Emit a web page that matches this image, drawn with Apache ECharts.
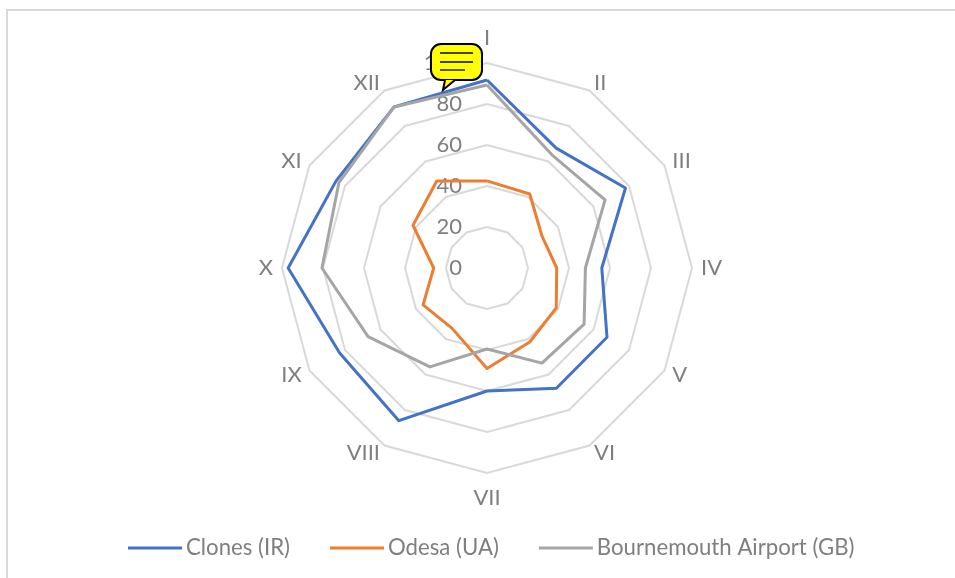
<!DOCTYPE html>
<html>
<head>
<meta charset="utf-8">
<style>html,body{margin:0;padding:0;background:#fff}#chart{width:955px;height:578px}</style>
<script src="https://cdn.jsdelivr.net/npm/echarts@6/dist/echarts.min.js"></script>
</head>
<body>
<div id="chart"></div>
<script>
// Monthly values per station, I to XII clockwise from the top
const months = ['I','II','III','IV','V','VI','VII','VIII','IX','X','XI','XII'];
const clones = [91.7,67.5,78,56,67.6,67.7,60,86,83,97,85,90.7];
const odesa = [42.5,41.7,31,34,39,41.7,49,34,36,26,41.7,49];
const bournemouth = [89.3,63.6,66.5,48,54.7,53.6,39.5,55.7,67,80.5,83.4,90.7];
const FONT = 'Lato';
const GREY = '#7f7f7f';

// The radar lays its axes out anticlockwise, so keep the first spoke and flip the rest
const clockwise = list => [list[0], ...list.slice(1).reverse()];

function station(name, values, color) {
  return {
    name: name,
    value: clockwise(values),
    symbol: 'none',
    lineStyle: { color: color, width: 3, join: 'round' },
    itemStyle: { color: color }
  };
}

// Extra clearance for the names straight above and below the centre
const namePadding = { I: [0, 0, 5, 0], VII: [5, 0, 0, 0] };

const chart = echarts.init(document.getElementById('chart'), null, { renderer: 'canvas' });
chart.setOption({
  animation: false,
  backgroundColor: '#fff',
  legend: {
    top: 532,
    left: 123,
    itemGap: 40,
    itemWidth: 54,
    itemHeight: 3,
    icon: 'rect',
    textStyle: { color: GREY, fontFamily: FONT, fontSize: 22.2, padding: [0, 0, 0, -1] },
    data: ['Clones (IR)', 'Odesa (UA)', 'Bournemouth Airport (GB)']
  },
  radar: {
    center: [487, 268],
    radius: 205,
    startAngle: 90,
    splitNumber: 5,
    shape: 'polygon',
    // Scale numbers appear only on the top spoke
    indicator: clockwise(months).map((m, i) => ({
      name: m, min: 0, max: 100,
      axisLabel: { show: i === 0 },
      nameTextStyle: { color: GREY, fontFamily: FONT, fontSize: 22, padding: namePadding[m] || 0 }
    })),
    axisName: { color: GREY, fontFamily: FONT, fontSize: 22 },
    nameGap: 9,
    axisLine: { show: false },
    axisTick: { show: false },
    splitArea: { show: false },
    splitLine: { lineStyle: { color: '#d9d9d9', width: 2 } },
    axisLabel: {
      show: true,
      inside: true,
      margin: 25,
      padding: [2, 0, 0, 0],
      color: GREY,
      fontFamily: FONT,
      fontSize: 22
    }
  },
  series: [{
    type: 'radar',
    data: [
      station('Clones (IR)', clones, '#4472c4'),
      station('Odesa (UA)', odesa, '#ed7d31'),
      station('Bournemouth Airport (GB)', bournemouth, '#a5a5a5')
    ]
  }],
  graphic: [
    // Chart frame: top and left edges
    { type: 'polyline', silent: true, shape: { points: [[7, 578], [7, 10], [955, 10]] },
      style: { stroke: '#d9d9d9', lineWidth: 2, fill: null } },
    // Comment marker above the top axis
    { type: 'rect', z: 100, shape: { x: 431, y: 44, width: 51, height: 36, r: 10 },
      style: { fill: '#ffff00', stroke: '#000', lineWidth: 2 } },
    { type: 'polyline', z: 101, shape: { points: [[455, 80], [443, 90], [445, 80]] },
      style: { fill: '#ffff00', stroke: '#000', lineWidth: 2 } },
    { type: 'line', z: 102, shape: { x1: 440, y1: 53, x2: 473, y2: 53 }, style: { stroke: '#000', lineWidth: 1.3 } },
    { type: 'line', z: 102, shape: { x1: 440, y1: 62, x2: 473, y2: 62 }, style: { stroke: '#000', lineWidth: 1.3 } },
    { type: 'line', z: 102, shape: { x1: 440, y1: 70, x2: 465, y2: 70 }, style: { stroke: '#000', lineWidth: 1.3 } }
  ]
});
</script>
</body>
</html>
